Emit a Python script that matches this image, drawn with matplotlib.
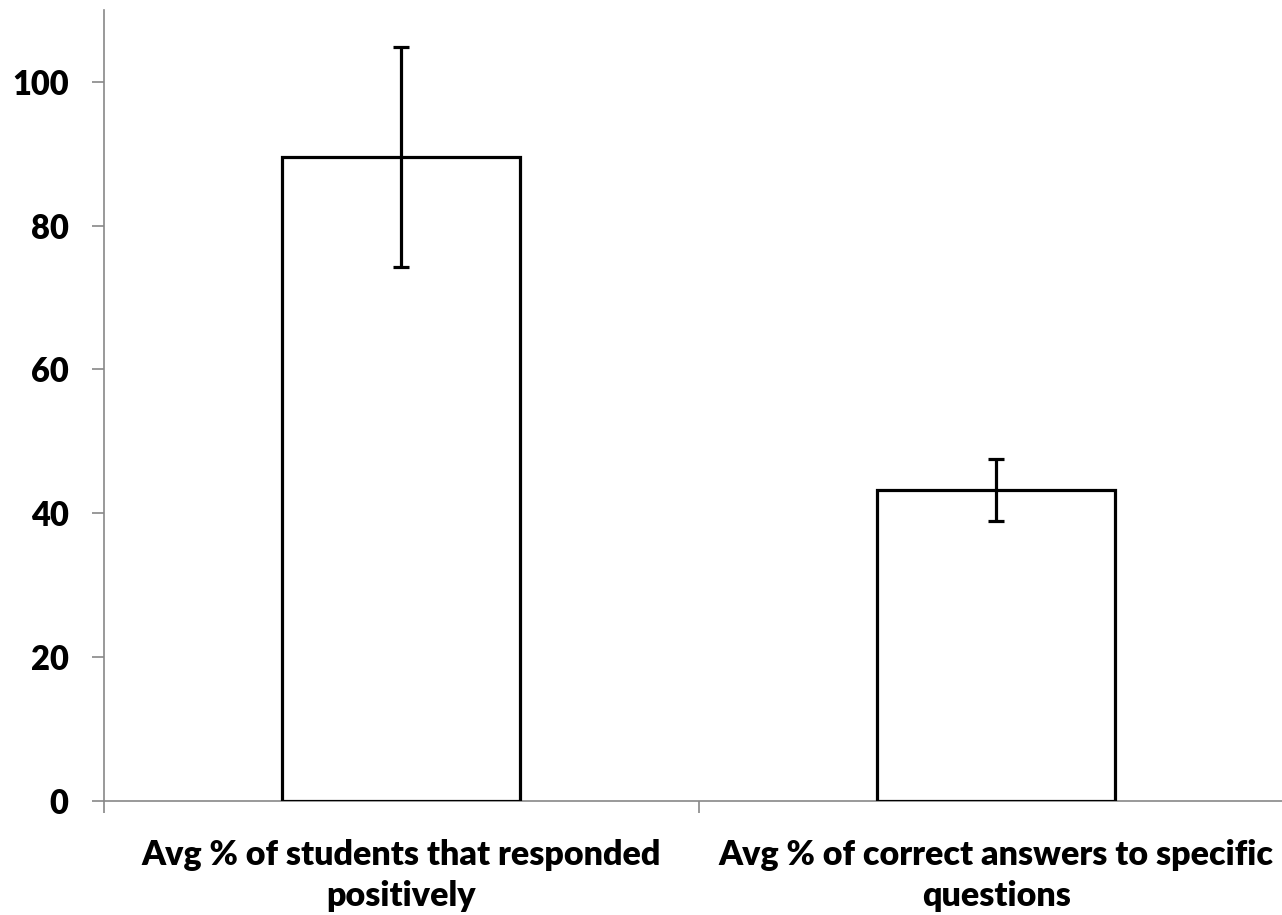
import numpy as np
import matplotlib
matplotlib.use("Agg")
import matplotlib.pyplot as plt

categories = ["Avg % of students that responded\npositively",
              "Avg % of correct answers to specific\nquestions"]
values = [89.5, 43.2]
errors = [15.3, 4.35]
yticks = [0, 20, 40, 60, 80, 100]

plt.rcParams['font.family'] = ['Lato', 'DejaVu Sans']

fig = plt.figure(figsize=(12.82, 9.15), dpi=100)
ax = fig.add_axes([104/1282, 114.5/915, 1189.5/1282, 790.5/915])

x = np.arange(len(categories))
ax.bar(x, values, width=0.4, color='white', edgecolor='black', linewidth=2.3,
       yerr=errors, error_kw=dict(ecolor='black', elinewidth=2.3, capsize=5.5, capthick=2.3),
       zorder=3)

ax.set_xlim(-0.5, 1.5)
ax.set_ylim(0, 110)

for s in ['top', 'right']:
    ax.spines[s].set_visible(False)
for s in ['left', 'bottom']:
    ax.spines[s].set_color('#888888')
    ax.spines[s].set_linewidth(1.2)

ax.set_yticks(yticks)
ax.set_yticklabels([str(t) for t in yticks], fontsize=23.5, fontweight='heavy')
ax.tick_params(axis='y', length=8.5, width=1.2, color='#888888', pad=17)

ax.set_xticks(x)
ax.set_xticklabels(categories, fontsize=24.5, fontweight='heavy', linespacing=1.35)
ax.tick_params(axis='x', which='major', length=0, pad=28)
ax.set_xticks([-0.5, 0.5, 1.5], minor=True)
ax.tick_params(axis='x', which='minor', length=8.5, width=1.2, color='#888888')

fig.savefig('out.png', dpi=100)
